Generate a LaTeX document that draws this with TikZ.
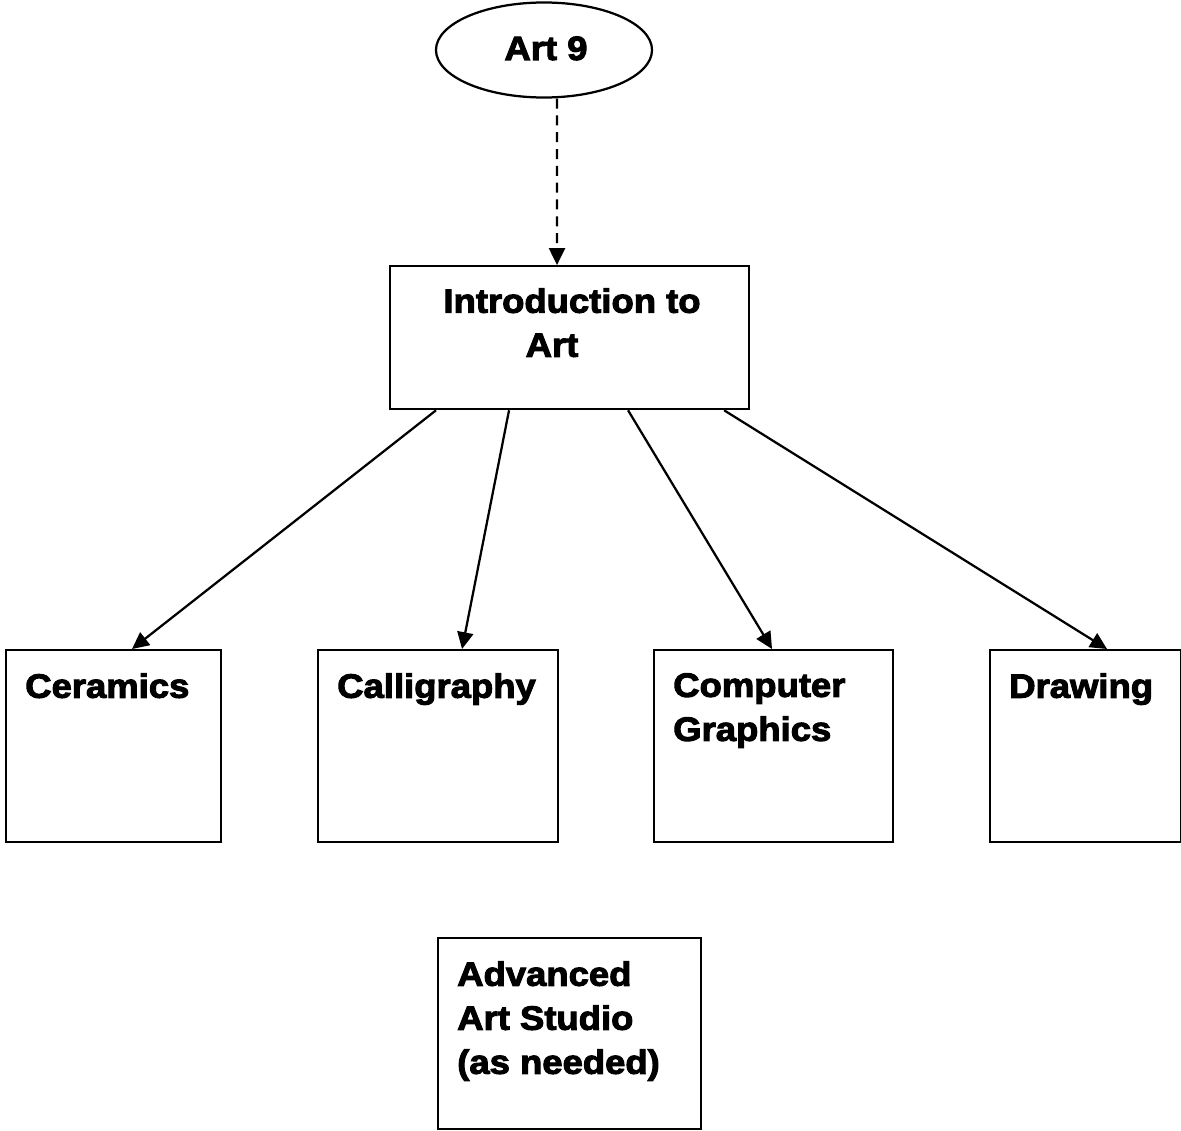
\documentclass[tikz,border=0pt]{standalone}
\usepackage{fontspec}
\setmainfont{Liberation Sans}[BoldFeatures={FakeStretch=1.08,FakeBold=3}]
\usetikzlibrary{positioning,shapes,arrows.meta}

\begin{document}
\begin{tikzpicture}[x=0.025cm, y=-0.025cm,
    course/.style={draw, line width=1.6pt, rectangle, anchor=north west, inner sep=0pt},
    start/.style={draw, line width=1.6pt, ellipse, minimum width=5.4cm, minimum height=2.375cm, inner sep=0pt},
    label/.style={anchor=north west, inner sep=0pt, align=left, font=\bfseries\fontsize{24pt}{31.3pt}\selectfont},
    relation/.style={-{Triangle[length=0.42cm,width=0.4cm]}, line width=1.6pt}
]
\useasboundingbox (0,0) rectangle (1181,1130);

% Start
\node[start] (art9) at (544,50) {};
\node[label, anchor=base] (art9text) at (546,60) {Art 9};

% Intro course
\node[course, minimum width=8.975cm, minimum height=3.575cm] (intro) at (389,265) {};
\node[label, anchor=north, align=center] (introtext) at (572,288) {Introduction to\\Art\hspace*{1cm}};

% Options
\node[course, minimum width=5.375cm, minimum height=4.8cm] (ceramics) at (5,649) {};
\node[course, minimum width=6cm, minimum height=4.8cm] (calligraphy) at (317,649) {};
\node[course, minimum width=5.975cm, minimum height=4.8cm] (graphics) at (653,649) {};
\node[course, minimum width=4.775cm, minimum height=4.8cm] (drawing) at (989,649) {};
\node[label] (ceramicstext) at (25,673) {Ceramics};
\node[label] (calligraphytext) at (337,673) {Calligraphy};
\node[label] (graphicstext) at (673,673) {Computer\\Graphics};
\node[label] (drawingtext) at (1009,673) {Drawing};

% Studio
\node[course, minimum width=6.575cm, minimum height=4.775cm] (studio) at (437,937) {};
\node[label] (studiotext) at (457,961) {Advanced\\Art Studio\\(as needed)};

% Relations
\draw[relation, dash pattern=on 0.25cm off 0.17cm] ([xshift=0.325cm]art9.south) -- ([xshift=4.2cm]intro.north west);
\draw[relation] ([xshift=1.175cm]intro.south west) -- ([xshift=3.175cm]ceramics.north west);
\draw[relation] ([xshift=3cm]intro.south west) -- ([xshift=3.625cm]calligraphy.north west);
\draw[relation] ([xshift=5.975cm]intro.south west) -- ([xshift=2.975cm]graphics.north west);
\draw[relation] ([xshift=8.375cm]intro.south west) -- ([xshift=2.95cm]drawing.north west);

\end{tikzpicture}
\end{document}
